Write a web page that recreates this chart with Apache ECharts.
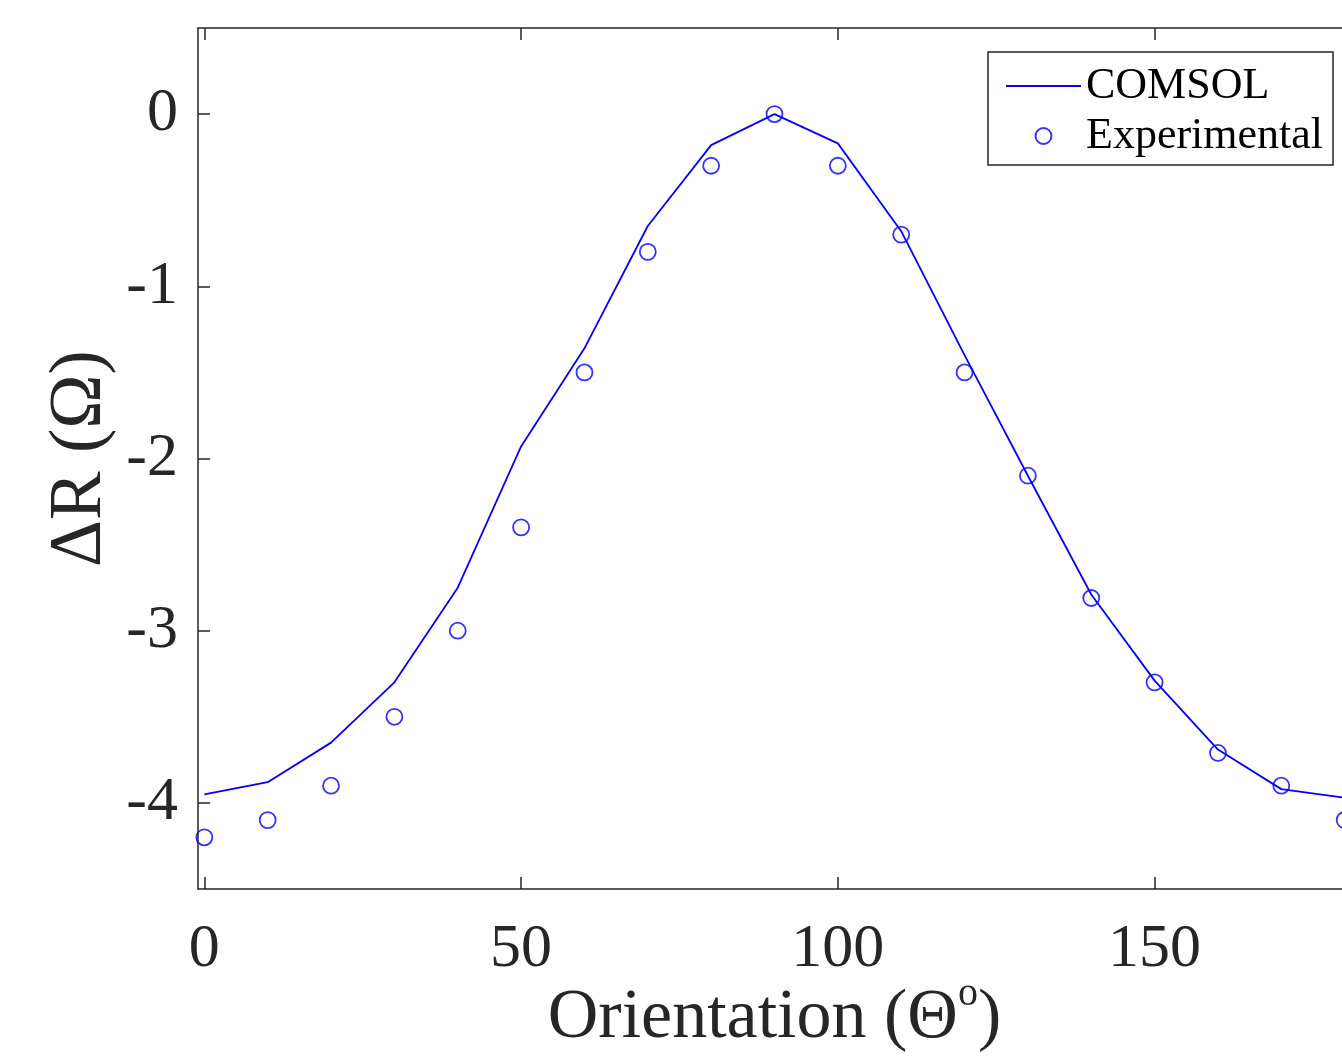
<!DOCTYPE html>
<html>
<head>
    <meta charset="UTF-8">
    <title>ΔR vs Orientation</title>
    <script src="https://cdn.jsdelivr.net/npm/echarts@6/dist/echarts.min.js"></script>
    <style>
        html, body { margin: 0; padding: 0; background: #fff; }
        #chart { width: 1342px; height: 1061px; }
    </style>
</head>
<body>
<div id="chart"></div>
<script>
    // orientation angles (deg)
    var angles = [0, 10, 20, 30, 40, 50, 60, 70, 80, 90, 100, 110, 120, 130, 140, 150, 160, 170, 180];
    // simulated curve
    var comsol = [-3.95, -3.88, -3.65, -3.30, -2.75, -1.93, -1.36, -0.65, -0.18, 0, -0.17, -0.68, -1.40, -2.10, -2.79, -3.29, -3.69, -3.92, -3.97];
    // measured points
    var experimental = [-4.20, -4.10, -3.90, -3.50, -3.00, -2.40, -1.50, -0.80, -0.30, 0, -0.30, -0.70, -1.50, -2.10, -2.81, -3.30, -3.71, -3.90, -4.10];
    var xTicks = [0, 50, 100, 150];
    var yTicks = [-4, -3, -2, -1, 0];

    var axisColor = '#262626';
    var serif = '"Liberation Serif", "Times New Roman", serif';

    function pairs(xs, ys) {
        return xs.map(function (x, i) { return [x, ys[i]]; });
    }

    var tick = {show: true, inside: true, length: 12, customValues: xTicks, lineStyle: {color: axisColor, width: 1.5}};
    var line = {show: true, onZero: false, lineStyle: {color: axisColor, width: 1.5}};

    var chart = echarts.init(document.getElementById('chart'), null, {renderer: 'canvas'});
    chart.setOption({
        animation: false,
        backgroundColor: '#fff',
        grid: {left: 198, top: 28, width: 1153, height: 861, outerBoundsMode: 'none', containLabel: false},
        legend: {
            orient: 'vertical',
            left: 988,
            top: 52,
            padding: [12, 10, 7, 17],
            itemGap: 6,
            itemWidth: 75,
            itemHeight: 16,
            borderColor: axisColor,
            borderWidth: 1.5,
            backgroundColor: '#fff',
            textStyle: {fontFamily: serif, fontSize: 44, color: '#000'},
            data: [
                {name: 'COMSOL', itemStyle: {color: 'rgba(0,0,0,0)', borderWidth: 0}},
                {name: 'Experimental'}
            ]
        },
        xAxis: [{
            type: 'value',
            min: -1,
            max: 181,
            name: 'Orientation (Θ{sup|o})',
            nameLocation: 'middle',
            nameGap: 85,
            nameMoveOverlap: false,
            nameTextStyle: {
                fontFamily: serif, fontSize: 70, color: axisColor,
                rich: {sup: {fontFamily: serif, fontSize: 40, color: axisColor, padding: [0, 0, 50, 0]}}
            },
            axisLine: line,
            axisTick: tick,
            axisLabel: {customValues: xTicks, fontFamily: serif, fontSize: 62, color: axisColor, margin: 30},
            splitLine: {show: false}
        }, {
            type: 'value',
            position: 'top',
            min: -1,
            max: 181,
            axisLine: line,
            axisTick: tick,
            axisLabel: {show: false},
            splitLine: {show: false}
        }],
        yAxis: {
            type: 'value',
            min: -4.5,
            max: 0.5,
            name: 'ΔR (Ω)',
            nameLocation: 'middle',
            nameGap: 81,
            nameMoveOverlap: false,
            nameTextStyle: {fontFamily: serif, fontSize: 73, color: axisColor},
            axisLine: line,
            axisTick: {show: true, inside: true, length: 12, customValues: yTicks, lineStyle: {color: axisColor, width: 1.5}},
            axisLabel: {customValues: yTicks, fontFamily: serif, fontSize: 62, color: axisColor, margin: 20},
            splitLine: {show: false}
        },
        series: [{
            name: 'COMSOL',
            type: 'line',
            data: pairs(angles, comsol),
            showSymbol: false,
            symbol: 'none',
            lineStyle: {color: '#0000ff', width: 1.8},
            itemStyle: {color: '#0000ff'},
            z: 2
        }, {
            name: 'Experimental',
            type: 'scatter',
            data: pairs(angles, experimental),
            symbol: 'circle',
            symbolSize: 16,
            itemStyle: {color: 'rgba(0,0,0,0)', borderColor: '#0000ff', borderWidth: 1.8},
            z: 3
        }]
    });
</script>
</body>
</html>
